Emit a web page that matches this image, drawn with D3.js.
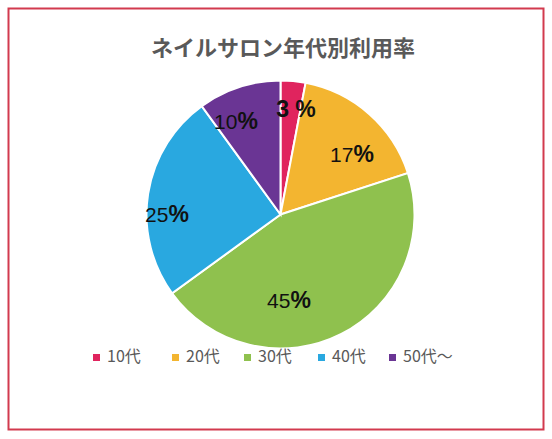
<!DOCTYPE html><html><head><meta charset="utf-8"><script src="https://cdn.jsdelivr.net/npm/d3@7"></script>
<style>body{margin:0;background:#fff}</style></head><body><svg id="c" width="552" height="439"></svg>
<script>
const categories=["10代","20代","30代","40代","50代～"];
const values=[3,17,45,25,10];
const labels=["3 ","17","45","25","10"];
const colors=["#e0245e","#f3b530","#8fc14e","#29a8e0","#6a3594"];
const labelPos=[[296,111],[352,156],[289,302],[167,216],[236,123]];
const svg=d3.select("#c");
svg.append("rect").attr("x",8.5).attr("y",8.5).attr("width",535).attr("height",421).attr("fill","#fff").attr("stroke","#d23a4e").attr("stroke-width",2);
svg.append("text").attr("x",283).attr("y",56).attr("text-anchor","middle").attr("font-family","Noto Sans CJK JP").attr("font-weight","bold").attr("font-size",22).attr("fill","#595959").text("ネイルサロン年代別利用率");
const pie=d3.pie().sort(null).value(d=>d);
const arc=d3.arc().innerRadius(0).outerRadius(134);
const g=svg.append("g").attr("transform","translate(280.5,214.5)");
g.selectAll("path").data(pie(values)).join("path").attr("d",arc).attr("fill",(d,i)=>colors[i]).attr("stroke","#fff").attr("stroke-width",2);
labelPos.forEach((p,i)=>{const t=svg.append("text").attr("x",p[0]).attr("y",p[1]).attr("text-anchor","middle").attr("dominant-baseline","middle").attr("font-family","Liberation Sans, Arial").attr("font-size",i==0?23:21).attr("fill","#111");
t.append("tspan").attr("font-weight",i==0?"bold":"normal").text(labels[i]);t.append("tspan").attr("font-weight","bold").attr("font-size",23).text("%");});
const lx=[93,172,244,318,389];
categories.forEach((c,i)=>{svg.append("rect").attr("x",lx[i]).attr("y",354).attr("width",7).attr("height",7).attr("fill",colors[i]);
svg.append("text").attr("x",lx[i]+14).attr("y",358).attr("dominant-baseline","middle").attr("font-family","Noto Sans CJK JP").attr("font-size",16).attr("fill","#595959").text(c);});
</script></body></html>
